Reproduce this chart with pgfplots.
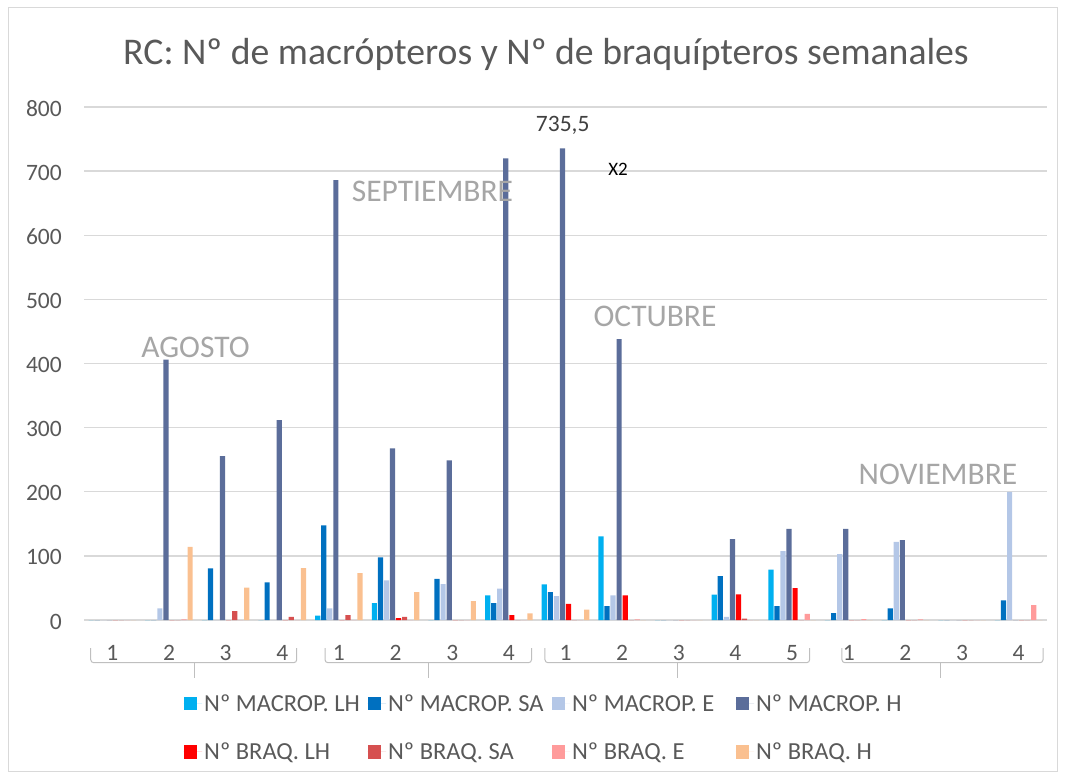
\documentclass[border=0pt]{standalone}
\usepackage{pgfplots}
\pgfplotsset{compat=1.18}
\usepackage{fontspec}
\setmainfont{Carlito}
\definecolor{cLH}{HTML}{00B0F0}
\definecolor{cSA}{HTML}{0070C0}
\definecolor{cE}{HTML}{B4C7E7}
\definecolor{cH}{HTML}{5B6D9A}
\definecolor{bLH}{HTML}{FF0000}
\definecolor{bSA}{HTML}{D65050}
\definecolor{bE}{HTML}{FF9B9B}
\definecolor{bH}{HTML}{FAC090}
\definecolor{txt}{HTML}{595959}
\definecolor{gridc}{HTML}{D9D9D9}
\definecolor{month}{HTML}{A6A6A6}
\definecolor{brk}{HTML}{BFBFBF}
\newcommand{\base}{\fontsize{23.5bp}{28bp}\selectfont}
\newcommand{\lbase}{\fontsize{24.5bp}{29bp}\selectfont}
\newcommand{\lt}[1]{\makebox[161.5bp][l]{#1}}
\begin{document}
\begin{tikzpicture}
\useasboundingbox (0,0) rectangle (1065bp,-778bp);
\draw[gridc, line width=1bp] (8bp,-7.5bp) rectangle (1057.5bp,-771bp);
\begin{axis}[
  at={(84bp,-620bp)}, anchor=south west,
  scale only axis, width=963bp, height=513bp,
  xmin=-0.5, xmax=16.5, ymin=0, ymax=800,
  ybar=0.85bp, bar width=5.2bp,
  xtick={0,...,16},
  xticklabels={1,2,3,4,1,2,3,4,1,2,3,4,5,1,2,3,4},
  ytick={0,100,...,800},
  ymajorgrids, xmajorgrids=false,
  grid style={draw=gridc, line width=1.3bp},
  axis line style={draw=none},
  major tick length=0pt,
  /pgf/number format/assume math mode=true,
  tick label style={font=\base, text=txt},
  yticklabel style={anchor=base east, inner sep=0pt, xshift=-22bp, yshift=-9bp},
  xticklabel style={anchor=base, inner sep=0pt, yshift=-40bp},
  clip=false,
  legend columns=4,
  legend cell align=left,
  legend image code/.code={\fill[#1] (0bp,-6.75bp) rectangle (13.5bp,6.75bp); \path (0bp,0bp) -- (18.5bp,0bp);},
  legend style={draw=none, fill=none, font=\lbase, text=txt,
    at={(axis description cs:0.1033,-0.1410)}, anchor=north west,
    inner xsep=0pt, inner ysep=0pt, row sep=26bp,
    /tikz/every even column/.append style={column sep=0bp}},
]
\addplot[draw=none, fill=cLH] coordinates {(0,0)(1,0)(2,0)(3,0)(4,6.8)(5,26.5)(6,0)(7,38.4)(8,55.6)(9,130.4)(10,0)(11,39.5)(12,78.4)(13,0)(14,0)(15,0)(16,0)};
\addlegendentry{\lt{Nº MACROP. LH}}
\addplot[draw=none, fill=cSA] coordinates {(0,0)(1,0)(2,80.5)(3,58.7)(4,147.5)(5,97.7)(6,64)(7,26.5)(8,43.6)(9,21.8)(10,0)(11,68.6)(12,21.8)(13,10.9)(14,18)(15,0)(16,30.6)};
\addlegendentry{\lt{Nº MACROP. SA}}
\addplot[draw=none, fill=cE] coordinates {(0,0)(1,18)(2,0)(3,0)(4,18)(5,61.8)(6,56)(7,48.8)(8,37.4)(9,38.4)(10,0)(11,4.7)(12,107.5)(13,102.9)(14,122)(15,0)(16,200)};
\addlegendentry{\lt{Nº MACROP. E}}
\addplot[draw=none, fill=cH] coordinates {(0,0)(1,406)(2,255.6)(3,311.7)(4,686)(5,267.5)(6,249)(7,720)(8,735.5)(9,438)(10,0)(11,126)(12,142.3)(13,142.3)(14,124.7)(15,0)(16,0)};
\addlegendentry{\lt{Nº MACROP. H}}
\addplot[draw=none, fill=bLH] coordinates {(0,0)(1,0)(2,0)(3,0)(4,0)(5,3)(6,0)(7,7.8)(8,25)(9,38.4)(10,0)(11,40)(12,49.9)(13,0)(14,0)(15,0)(16,0)};
\addlegendentry{\lt{Nº BRAQ. LH}}
\addplot[draw=none, fill=bSA] coordinates {(0,0)(1,0)(2,14)(3,5)(4,7.8)(5,4.7)(6,0)(7,0)(8,0)(9,0)(10,0)(11,2)(12,0)(13,0)(14,0)(15,0)(16,0)};
\addlegendentry{\lt{Nº BRAQ. SA}}
\addplot[draw=none, fill=bE] coordinates {(0,0)(1,1)(2,0)(3,0)(4,0)(5,0)(6,0)(7,0)(8,0)(9,1)(10,0)(11,0)(12,9.4)(13,1.5)(14,1)(15,0)(16,23.4)};
\addlegendentry{\lt{Nº BRAQ. E}}
\addplot[draw=none, fill=bH] coordinates {(0,0)(1,114)(2,50.4)(3,81)(4,73)(5,43.6)(6,29.6)(7,10.4)(8,16)(9,0)(10,0)(11,0)(12,0)(13,0)(14,0)(15,0)(16,0)};
\addlegendentry{\lt{Nº BRAQ. H}}
% multi-level category brackets
\begin{scope}[brk, line width=1bp]
\draw[rounded corners=3bp] (axis cs:-0.381,-43.7) -- (axis cs:-0.381,-66.6) -- (axis cs:3.255,-66.6) -- (axis cs:3.255,-43.7);
\draw (axis cs:1.442,-66.6) -- (axis cs:1.442,-90.4);
\draw[rounded corners=3bp] (axis cs:3.755,-43.7) -- (axis cs:3.755,-66.6) -- (axis cs:7.40,-66.6) -- (axis cs:7.40,-43.7);
\draw (axis cs:5.59,-66.6) -- (axis cs:5.59,-90.4);
\draw[rounded corners=3bp] (axis cs:7.638,-43.7) -- (axis cs:7.638,-66.6) -- (axis cs:12.31,-66.6) -- (axis cs:12.31,-43.7);
\draw (axis cs:9.977,-66.6) -- (axis cs:9.977,-90.4);
\draw[rounded corners=3bp] (axis cs:12.88,-43.7) -- (axis cs:12.88,-66.6) -- (axis cs:16.43,-66.6) -- (axis cs:16.43,-43.7);
\draw (axis cs:14.62,-66.6) -- (axis cs:14.62,-90.4);
\end{scope}
\end{axis}
% title
\node[anchor=base, text=txt, font=\fontsize{37.7bp}{44bp}\selectfont, inner sep=0pt] at (546bp,-64bp) {RC: Nº de macrópteros y Nº de braquípteros semanales};
% month labels
\begin{scope}[every node/.style={anchor=base, text=month, font=\fontsize{31.5bp}{36bp}\selectfont, inner sep=0pt}]
\node at (195.5bp,-357.3bp) {AGOSTO};
\node at (432.5bp,-201.7bp) {SEPTIEMBRE};
\node at (655bp,-326.5bp) {OCTUBRE};
\node at (938bp,-484bp) {NOVIEMBRE};
\end{scope}
\node[anchor=base, text=black!75, font=\base, inner sep=0pt] at (562.7bp,-131.7bp) {735,5};
\node[anchor=base, text=black, font=\fontsize{19bp}{23bp}\selectfont, inner sep=0pt] at (618bp,-175bp) {X2};
\end{tikzpicture}
\end{document}
